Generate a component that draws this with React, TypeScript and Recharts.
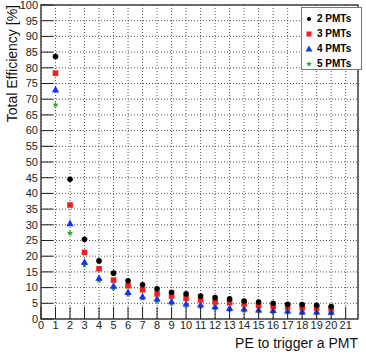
import {
  ScatterChart,
  Scatter,
  XAxis,
  YAxis,
  CartesianGrid,
  ReferenceArea,
  Label,
} from "recharts";

// PE threshold (x categories)
const pe = [1, 2, 3, 4, 5, 6, 7, 8, 9, 10, 11, 12, 13, 14, 15, 16, 17, 18, 19, 20];

// total efficiency [%] per PMT multiplicity
const eff2 = [83.6, 44.5, 25.4, 18.5, 14.6, 12.2, 10.9, 9.6, 8.5, 8.0, 7.3, 6.8, 6.4, 5.7, 5.4, 5.0, 4.7, 4.6, 4.4, 4.0];
const eff3 = [78.3, 36.3, 21.2, 16.0, 12.4, 10.6, 9.3, 8.0, 7.3, 6.6, 6.1, 5.4, 5.2, 4.8, 4.3, 4.0, 3.8, 3.6, 3.5, 3.2];
const eff4 = [73.0, 30.4, 18.1, 13.0, 10.5, 8.5, 7.1, 6.4, 5.5, 4.8, 4.5, 3.9, 3.4, 3.2, 2.9, 2.7, 2.6, 2.3, 2.3, 2.2];
const eff5 = [68.2, 27.3, 17.2, 12.2, 9.8, 7.9, 6.6, 5.5, 5.0, 4.3, 4.0, 3.5, 3.0, 2.8, 2.5, 2.3, 2.2, 2.0, 1.9, 1.8];

const xTicks = [0, 1, 2, 3, 4, 5, 6, 7, 8, 9, 10, 11, 12, 13, 14, 15, 16, 17, 18, 19, 20, 21];
const yTicks = [0, 5, 10, 15, 20, 25, 30, 35, 40, 45, 50, 55, 60, 65, 70, 75, 80, 85, 90, 95, 100];

const FONT = "'Liberation Sans', Arial, sans-serif";

const toPoints = (vals: number[]) => pe.map((x, i) => ({ x, y: vals[i] }));

const RED = "#f02020";
const BLUE = "#1a33f0";
const GREEN = "#2aa52a";

const DotShape = (p: any) => <circle cx={p.cx} cy={p.cy} r={2.8} fill="#000" />;

const SquareShape = (p: any) => (
  <rect x={p.cx - 2.8} y={p.cy - 2.8} width={5.6} height={5.6} fill={RED} />
);

const TriShape = (p: any) => (
  <polygon
    points={`${p.cx},${p.cy - 4} ${p.cx - 3.6},${p.cy + 2.6} ${p.cx + 3.6},${p.cy + 2.6}`}
    fill={BLUE}
  />
);

function starPath(cx: number, cy: number, r: number) {
  let d = "";
  for (let i = 0; i < 10; i++) {
    const rr = i % 2 === 0 ? r : r * 0.45;
    const a = (Math.PI / 5) * i - Math.PI / 2;
    d += (i === 0 ? "M" : "L") + (cx + rr * Math.cos(a)).toFixed(2) + "," + (cy + rr * Math.sin(a)).toFixed(2);
  }
  return d + "Z";
}

const StarShape = (p: any) => <path d={starPath(p.cx, p.cy, 3.2)} fill={GREEN} />;

const YTick = (p: any) => {
  const { x, y, payload } = p;
  return (
    <g>
      <line x1={x} y1={y} x2={x + 12} y2={y} stroke="#222" strokeWidth={1} />
      <text x={x - 3} y={y} dy="0.35em" textAnchor="end" fontSize={11} fontFamily={FONT} fill="#222">
        {payload.value}
      </text>
    </g>
  );
};

const XTick = (p: any) => {
  const { x, y, payload } = p;
  return (
    <g>
      <line x1={x} y1={y} x2={x} y2={y - 12} stroke="#222" strokeWidth={1} />
      <text x={x} y={y + 10} textAnchor="middle" fontSize={11} fontFamily={FONT} fill="#222">
        {payload.value}
      </text>
    </g>
  );
};

const legendItems = [
  { name: "2 PMTs", kind: "dot" },
  { name: "3 PMTs", kind: "square" },
  { name: "4 PMTs", kind: "tri" },
  { name: "5 PMTs", kind: "star" },
];

function LegendMarker({ kind }: { kind: string }) {
  return (
    <svg width={8} height={8} style={{ display: "block" }}>
      {kind === "dot" && <circle cx={4} cy={4} r={2} fill="#000" />}
      {kind === "square" && <rect x={1.5} y={1.5} width={5} height={5} fill={RED} />}
      {kind === "tri" && <polygon points="4,0.5 0.5,6.5 7.5,6.5" fill={BLUE} />}
      {kind === "star" && <path d={starPath(4, 4, 3)} fill={GREEN} />}
    </svg>
  );
}

export default function App() {
  return (
    <div style={{ position: "absolute", left: 0, top: 0, width: 366, height: 356, background: "#fff" }}>
      <ScatterChart width={366} height={356} margin={{ top: 5, right: 8, bottom: 0, left: 0 }}>
        <CartesianGrid stroke="#555" strokeDasharray="1 2" />
        <XAxis
          type="number"
          dataKey="x"
          domain={[0, 21.85]}
          ticks={xTicks}
          allowDataOverflow
          height={37}
          tickSize={0}
          tickMargin={0}
          tickLine={false}
          axisLine={false}
          tick={<XTick />}
          interval={0}
        >
          <Label
            content={(props: any) => {
              const vb = props.viewBox;
              return (
                <text x={vb.x + vb.width} y={vb.y + 29} textAnchor="end" fontSize={14} fontFamily={FONT} fill="#111">
                  PE to trigger a PMT
                </text>
              );
            }}
          />
        </XAxis>
        <YAxis
          type="number"
          dataKey="y"
          domain={[0, 100]}
          ticks={yTicks}
          width={41}
          tickSize={0}
          tickMargin={0}
          tickLine={false}
          axisLine={false}
          tick={<YTick />}
          interval={0}
        >
          <Label
            content={(props: any) => {
              const vb = props.viewBox;
              return (
                <text
                  x={0}
                  y={0}
                  transform={`translate(17, ${vb.y}) rotate(-90)`}
                  textAnchor="end"
                  fontSize={14}
                  fontFamily={FONT}
                  fill="#111"
                >
                  Total Efficiency [%]
                </text>
              );
            }}
          />
        </YAxis>
        <ReferenceArea x1={0} x2={21.85} y1={0} y2={100} fill="none" stroke="#444" strokeWidth={1.5} />
        <Scatter data={toPoints(eff5)} shape={<StarShape />} isAnimationActive={false} />
        <Scatter data={toPoints(eff4)} shape={<TriShape />} isAnimationActive={false} />
        <Scatter data={toPoints(eff3)} shape={<SquareShape />} isAnimationActive={false} />
        <Scatter data={toPoints(eff2)} shape={<DotShape />} isAnimationActive={false} />
      </ScatterChart>
      <div
        style={{
          position: "absolute",
          left: 301,
          top: 7,
          width: 61,
          height: 63,
          boxSizing: "border-box",
          border: "1px solid #777",
          background: "#fff",
          padding: "3px 0 0 3px",
          fontFamily: FONT,
          fontWeight: 700,
          fontSize: 10,
          color: "#000",
        }}
      >
        {legendItems.map((it) => (
          <div key={it.name} style={{ display: "flex", alignItems: "center", height: 15 }}>
            <LegendMarker kind={it.kind} />
            <span style={{ marginLeft: 4 }}>{it.name}</span>
          </div>
        ))}
      </div>
    </div>
  );
}
